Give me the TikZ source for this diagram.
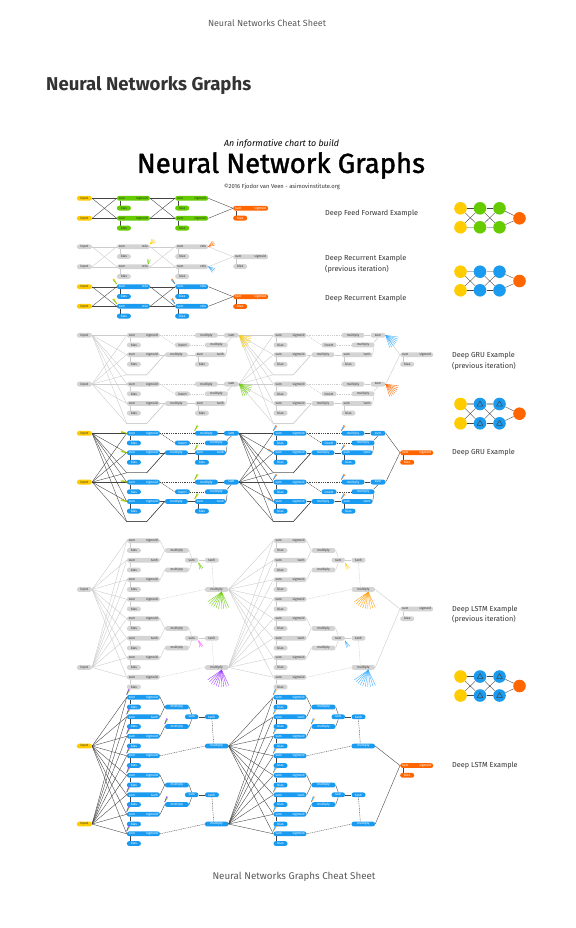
\documentclass[tikz,border=0pt]{standalone}
\usepackage{fontspec}
\setmainfont{Fira Sans}
\newfontfamily\titlefont[FakeBold=1.5]{Fira Sans}
\usetikzlibrary{calc}
\definecolor{pgray}{HTML}{D4D4D4}
\definecolor{ptxt}{HTML}{333333}
\definecolor{hgray}{HTML}{5A5A5A}
\definecolor{pblue}{HTML}{1A9BF0}
\definecolor{fblue}{HTML}{33AAFF}
\definecolor{pgreen}{HTML}{66CC00}
\definecolor{porange}{HTML}{FF6600}
\definecolor{forange}{HTML}{FF9900}
\definecolor{pyellow}{HTML}{FFCC00}
\definecolor{lgray}{HTML}{CCCCCC}
\definecolor{dgray}{HTML}{444444}
\definecolor{ppurple}{HTML}{9933FF}
\definecolor{ppink}{HTML}{FF55FF}
\definecolor{igray}{HTML}{B8B8B8}
\pgfdeclarelayer{back}\pgfdeclarelayer{bg}\pgfsetlayers{back,bg,main}
\newcommand\pf{\fontsize{3.3}{3.6}\selectfont}
\newcommand\two[3]{\makebox[#1pt]{#2\hfill #3}}
\tikzset{
 pill/.style={rectangle, rounded corners=2.3pt, minimum height=4.8pt, inner sep=0pt, font=\pf, anchor=west},
 gp/.style={pill, fill=pgray, text=ptxt},
 bp/.style={pill, fill=pblue, text=white},
 np/.style={pill, fill=pgreen, text=ptxt},
 op/.style={pill, fill=porange, text=white},
 yp/.style={pill, fill=pyellow, text=ptxt},
 ge/.style={draw=lgray, line width=0.4pt},
 de/.style={draw=dgray, line width=0.38pt},
 lge/.style={draw=igray, line width=1.1pt},
 dsh/.style={dash pattern=on 1pt off 0.8pt},
 lbl/.style={anchor=west, inner sep=0pt, font=\fontsize{7.3}{10.6}\selectfont, text=ptxt, align=left},
 fanline/.style={line width=0.35pt},
 dot/.style={circle, inner sep=0pt, minimum size=12.6pt},
}
\newcommand\bl[3]{\draw[#3] ([xshift=3pt]#1.south west) -- ([xshift=3pt]#2.north west);}
\newcommand\fan[6]{\foreach \k in {1,...,#4}{\draw[#6, fanline] (#1) -- ++({#2+(#3-#2)*(\k-1)/(#4-1)}:#5pt);}}
\newcommand\tk[4]{%
 \draw[#3, fanline] (#1) -- ++({#2-9}:6pt); \draw[#3, fanline] (#1) -- ++({#2-4}:6pt);
 \draw[#4, fanline] (#1) -- ++({#2+2}:6pt); \draw[#4, fanline] (#1) -- ++({#2+7}:6pt);}
% feed forward / recurrent network
\newcommand\ffnet[9]{%
 \node[#6, minimum width=15pt] (#1i1) at (76.7,#2) {input};
 \node[#6, minimum width=15pt] (#1i2) at (76.7,#3) {input};
 \foreach \na/\xa in {a/116.7,b/175}{%
  \node[#5, minimum width=33pt] (#1\na1) at (\xa,#2) {\two{29}{sum}{#9}};
  \node[#5, minimum width=14pt] (#1\na1b) at (\xa,#2+9.8) {bias};
  \node[#5, minimum width=33pt] (#1\na2) at (\xa,#3) {\two{29}{sum}{#9}};
  \node[#5, minimum width=14pt] (#1\na2b) at (\xa,#3+9.8) {bias};}
 \node[#7, minimum width=35pt] (#1o) at (233,#4) {\two{31}{sum}{sigmoid}};
 \node[#7, minimum width=14pt] (#1ob) at (233,#4+9.8) {bias};
 \begin{pgfonlayer}{bg}
 \foreach \sa in {i1,i2}{\foreach \sb in {a1,a2}{\draw[#8] (#1\sa.east) -- (#1\sb.west);}}
 \foreach \sa in {a1,a2}{\foreach \sb in {b1,b2}{\draw[#8] (#1\sa.east) -- (#1\sb.west);}}
 \foreach \sa in {b1,b2}{\draw[#8] (#1\sa.east) -- (#1o.west);}
 \foreach \sa in {a1,a2,b1,b2}{\bl{#1\sa}{#1\sa b}{#8}}
 \bl{#1o}{#1ob}{#8}
 \end{pgfonlayer}}
% GRU block
\newcommand\grub[5]{%
 \node[#4, minimum width=33pt] (#1s1) at (#2,#3) {\two{29}{sum}{sigmoid}};
 \node[#4, minimum width=14pt] (#1b1) at (#2,#3+9.7) {bias};
 \node[#4, minimum width=33pt] (#1s2) at (#2,#3+19.4) {\two{29}{sum}{sigmoid}};
 \node[#4, minimum width=14pt] (#1b2) at (#2,#3+29) {bias};
 \node[#4, minimum width=23pt] (#1mz) at (#2+68,#3) {multiply};
 \node[#4, minimum width=15pt] (#1iv) at (#2+48,#3+9.7) {invert};
 \node[#4, minimum width=23pt] (#1m2) at (#2+78,#3+9.7) {multiply};
 \node[#4, minimum width=23pt] (#1mr) at (#2+38,#3+19.4) {multiply};
 \node[#4, minimum width=31pt] (#1st) at (#2+68,#3+19.4) {\two{27}{sum}{tanh}};
 \node[#4, minimum width=14pt] (#1bt) at (#2+68,#3+29) {bias};
 \node[#4, minimum width=15pt] (#1sm) at (#2+97,#3) {sum};
 \coordinate (#1cA) at (#2,#3+39.5);
 \coordinate (#1cB) at (#2+20,#3+39.5);
 \begin{pgfonlayer}{bg}
 \bl{#1s1}{#1b1}{#5}\bl{#1s2}{#1b2}{#5}\bl{#1st}{#1bt}{#5}
 \draw[#5,dsh] (#1s1.east) -- (#1mz.west);
 \draw[#5,dsh] (#1s1.east) -- (#1iv.west);
 \draw[#5,dsh] (#1iv.east) -- (#1m2.west);
 \draw[#5] (#1s2.east) -- (#1mr.west);
 \draw[#5] (#1mr.east) -- (#1st.west);
 \draw[#5] (#1st.east) -- ([xshift=-1pt]#1m2.south east);
 \draw[#5] ([xshift=-1pt]#1m2.north east) -- (#1sm.south);
 \draw[#5] (#1mz.east) -- (#1sm.west);
 \end{pgfonlayer}}
\newcommand\grulink[3]{%
 \draw[#3] (#1.east) -- (#2s1.west);
 \draw[#3] (#1.east) -- (#2s2.west);
 \draw[#3] (#1.east) -- (#2cA) -- (#2cB) -- (#2mr.west);}
\newcommand\grunet[6]{%
 \node[#5, minimum width=15pt] (#1i1) at (76.7,#2) {input};
 \node[#5, minimum width=15pt] (#1i2) at (76.7,#2+48.8) {input};
 \grub{#1a}{126.7}{#2}{#3}{#4}
 \grub{#1b}{126.7}{#2+48.8}{#3}{#4}
 \grub{#1c}{273.3}{#2}{#3}{#4}
 \grub{#1d}{273.3}{#2+48.8}{#3}{#4}
 \node[#6, minimum width=33pt] (#1o) at (400,#2+19.4) {\two{29}{sum}{sigmoid}};
 \node[#6, minimum width=14pt] (#1ob) at (400,#2+29) {bias};
 \begin{pgfonlayer}{bg}
 \foreach \na in {#1i1,#1i2}{\grulink{\na}{#1a}{#4}\grulink{\na}{#1b}{#4}}
 \foreach \na in {#1asm,#1bsm}{\grulink{\na}{#1c}{#4}\grulink{\na}{#1d}{#4}}
 \draw[#4] (#1csm.east) -- (#1o.west);
 \draw[#4] (#1dsm.east) -- (#1o.west);
 \bl{#1o}{#1ob}{#4}
 \end{pgfonlayer}}
% LSTM block
\newcommand\lstb[5]{%
 \node[#4, minimum width=33pt] (#1s0) at (#2,#3) {\two{29}{sum}{sigmoid}};
 \node[#4, minimum width=14pt] (#1b0) at (#2,#3+9.75) {bias};
 \node[#4, minimum width=33pt] (#1s1) at (#2,#3+19.5) {\two{29}{sum}{tanh}};
 \node[#4, minimum width=14pt] (#1b1) at (#2,#3+29.25) {bias};
 \node[#4, minimum width=33pt] (#1s2) at (#2,#3+39) {\two{29}{sum}{sigmoid}};
 \node[#4, minimum width=14pt] (#1b2) at (#2,#3+48.75) {bias};
 \node[#4, minimum width=33pt] (#1s3) at (#2,#3+58.5) {\two{29}{sum}{sigmoid}};
 \node[#4, minimum width=14pt] (#1b3) at (#2,#3+68.25) {bias};
 \node[#4, minimum width=24pt] (#1m1) at (#2+38,#3+9.75) {multiply};
 \node[#4, minimum width=24pt] (#1m2) at (#2+38,#3+29.25) {multiply};
 \node[#4, minimum width=13.5pt] (#1sm) at (#2+58,#3+19.5) {sum};
 \node[#4, minimum width=14pt] (#1th) at (#2+78,#3+19.5) {tanh};
 \node[#4, minimum width=23.5pt] (#1mo) at (#2+78,#3+48.75) {multiply};
 \begin{pgfonlayer}{bg}
 \bl{#1s0}{#1b0}{#5}\bl{#1s1}{#1b1}{#5}\bl{#1s2}{#1b2}{#5}\bl{#1s3}{#1b3}{#5}
 \draw[#5] (#1s0.east) -- (#1m1.west);
 \draw[#5] (#1s1.east) -- (#1m1.west);
 \draw[#5] (#1s2.east) -- (#1m2.west);
 \draw[#5] (#1m1.east) -- (#1sm.north);
 \draw[#5] (#1m2.east) -- (#1sm.south);
 \draw[#5] (#1sm.east) -- (#1th.west);
 \draw[#5,dsh] (#1th.south) -- ([xshift=-3pt]#1mo.north);
 \draw[#5,dsh] (#1s3.east) -- (#1mo.west);
 \end{pgfonlayer}}
\newcommand\lstlink[3]{\foreach \nb in {s0,s1,s2,s3}{\draw[#3] (#1.east) -- (#2\nb.west);}}
\newcommand\lstnet[6]{%
 \node[#5, minimum width=15pt] (#1i1) at (76.7,#2+48.75) {input};
 \node[#5, minimum width=15pt] (#1i2) at (76.7,#2+126.75) {input};
 \lstb{#1a}{126.7}{#2}{#3}{#4}
 \lstb{#1b}{126.7}{#2+78}{#3}{#4}
 \lstb{#1c}{273.3}{#2}{#3}{#4}
 \lstb{#1d}{273.3}{#2+78}{#3}{#4}
 \node[#6, minimum width=33pt] (#1o) at (400,#2+68.25) {\two{29}{sum}{sigmoid}};
 \node[#6, minimum width=14pt] (#1ob) at (400,#2+78) {bias};
 \begin{pgfonlayer}{bg}
 \foreach \na in {#1i1,#1i2}{\lstlink{\na}{#1a}{#4}\lstlink{\na}{#1b}{#4}}
 \foreach \na in {#1amo,#1bmo}{\lstlink{\na}{#1c}{#4}\lstlink{\na}{#1d}{#4}}
 \draw[#4] (#1cmo.east) -- (#1o.west);
 \draw[#4] (#1dmo.east) -- (#1o.west);
 \bl{#1o}{#1ob}{#4}
 \end{pgfonlayer}}
% icons
\newcommand\tri[1]{\draw[dgray, line width=0.5pt, line join=round] ($(#1)+(-2.9,2)$) -- ($(#1)+(2.9,2)$) -- ($(#1)+(0,-3)$) -- cycle;}
\newcommand\icon[8]{%
 \node[dot, fill=pyellow] (#1t1) at (460.5,#2) {};
 \node[dot, fill=pyellow] (#1u1) at (460.5,#3) {};
 \node[dot, fill=#7] (#1t2) at (480,#2) {};
 \node[dot, fill=#7] (#1u2) at (480,#3) {};
 \node[dot, fill=#7] (#1t3) at (499.5,#2) {};
 \node[dot, fill=#7] (#1u3) at (499.5,#3) {};
 \node[dot, fill=porange] (#1o) at (519.5,#4) {};
 \begin{pgfonlayer}{bg}
 \draw[#5] (#1t1) -- (#1t2) -- (#1t3);
 \draw[#6] (#1u1) -- (#1u2) -- (#1u3);
 \draw[de] (#1t1) -- (#1u2) (#1u1) -- (#1t2) (#1t2) -- (#1u3) (#1u2) -- (#1t3) (#1t3) -- (#1o) (#1u3) -- (#1o);
 \end{pgfonlayer}
 \ifnum#8=1 \tri{#1t2}\tri{#1t3}\tri{#1u2}\tri{#1u3}\fi}
\begin{document}
\begin{tikzpicture}[x=1pt,y=-1pt]
\useasboundingbox (0,0) rectangle (575,928);
\begin{pgfonlayer}{back}
\fill[white] (0,0) rectangle (575,928);
\end{pgfonlayer}
% headers
\node[text=hgray, inner sep=0] (hdr) at (267,23) {\resizebox{118pt}{!}{Neural Networks Cheat Sheet}};
\node[text=ptxt, inner sep=0, anchor=west] (sec) at (46,86) {\resizebox{205pt}{!}{\bfseries Neural Networks Graphs}};
\node[text=black, inner sep=0] (sub) at (281.5,143.7) {\resizebox{115pt}{!}{\itshape An informative chart to build}};
\node[text=black, inner sep=0] (ttl) at (281,165.5) {\resizebox{288pt}{!}{\titlefont Neural Network Graphs}};
\node[text=ptxt, inner sep=0] (cpy) at (282,186.7) {\resizebox{116pt}{!}{©2016 Fjodor van Veen - asimovinstitute.org}};
\node[text=hgray, inner sep=0] (ftr) at (294,877) {\resizebox{163pt}{!}{Neural Networks Graphs Cheat Sheet}};
% networks
\ffnet{ff}{198.3}{218.3}{208.3}{np}{yp}{op}{de}{sigmoid}
\ffnet{rp}{246.7}{266.7}{256.7}{gp}{gp}{gp}{ge}{relu}
\ffnet{rc}{286.7}{306.3}{296.7}{bp}{yp}{op}{de}{relu}
\grunet{gq}{335.3}{gp}{ge}{gp}{gp}
\grunet{gc}{433.3}{bp}{de}{yp}{op}
\lstnet{lq}{540.7}{gp}{ge}{gp}{gp}
\lstnet{lc}{697.3}{bp}{de}{yp}{op}
% recurrent marks
\fan{rpa1.north east}{20}{70}{4}{6}{pyellow}
\fan{[xshift=-2pt]rpa2.north east}{60}{100}{3}{5}{pgreen}
\fan{rpb1.east}{15}{55}{4}{7}{porange}
\fan{rpb2.east}{-15}{-55}{4}{7}{fblue}
\tk{rca1.north west}{125}{pyellow}{pgreen}
\tk{rca2.north west}{125}{pyellow}{pgreen}
\tk{rcb1.north west}{125}{porange}{fblue}
\tk{rcb2.north west}{125}{porange}{fblue}
\fan{gqasm.east}{-8}{-72}{8}{13}{pyellow}
\fan{gqbsm.east}{-8}{-72}{8}{13}{pgreen}
\fan{gqcsm.east}{-8}{-72}{8}{13}{fblue}
\fan{gqdsm.east}{-8}{-72}{8}{13}{porange}
\foreach \na in {gca,gcb}{\tk{\na s1.west}{165}{pyellow}{pgreen}\tk{\na s2.west}{165}{pyellow}{pgreen}\tk{\na mz.north west}{60}{pyellow}{pgreen}\tk{\na st.north west}{60}{pyellow}{pgreen}}
\foreach \na in {gcc,gcd}{\tk{\na s1.north west}{60}{porange}{fblue}\tk{\na s2.west}{150}{porange}{fblue}\tk{\na mz.north west}{60}{porange}{fblue}\tk{\na st.north west}{60}{porange}{fblue}}
\fan{[xshift=5pt]lqamo.south}{-145}{-65}{10}{17}{pgreen}
\fan{[xshift=5pt]lqbmo.south}{-145}{-65}{10}{17}{ppurple}
\fan{[xshift=5pt]lqcmo.south}{-145}{-65}{10}{17}{forange}
\fan{[xshift=5pt]lqdmo.south}{-145}{-65}{10}{17}{fblue}
\fan{lqasm.south east}{-50}{-80}{3}{7}{pgreen}
\fan{lqbsm.south east}{-50}{-80}{3}{7}{ppink}
\fan{lqcsm.south east}{-50}{-80}{3}{7}{pyellow}
\fan{lqdsm.south east}{-50}{-80}{3}{7}{fblue}
\foreach \na in {lca,lcb}{\foreach \nb in {s0,s1,s2,s3,m2}{\tk{\na\nb.north west}{65}{pgreen}{ppurple}}}
\foreach \na in {lcc,lcd}{\foreach \nb in {s0,s1,s2,s3,m2}{\tk{\na\nb.north west}{65}{forange}{fblue}}}
% labels
\node[lbl] (lff) at (325,214) {Deep Feed Forward Example};
\node[lbl] (lrp) at (325,264) {Deep Recurrent Example\\(previous iteration)};
\node[lbl] (lrc) at (325,299) {Deep Recurrent Example};
\node[lbl] (lgq) at (452,361.3) {Deep GRU Example\\(previous iteration)};
\node[lbl] (lgc) at (452,452.7) {Deep GRU Example};
\node[lbl] (llq) at (452,614.7) {Deep LSTM Example\\(previous iteration)};
\node[lbl] (llc) at (452,765.7) {Deep LSTM Example};
% icons
\icon{if}{208.3}{227.3}{218.3}{de}{lge}{pgreen}{0}
\icon{ir}{271.7}{290.3}{281}{lge}{de}{pblue}{0}
\icon{ig}{404}{423.3}{413.7}{lge}{de}{pblue}{1}
\icon{il}{676.5}{695.5}{686}{de}{de}{pblue}{1}
\end{tikzpicture}
\end{document}
